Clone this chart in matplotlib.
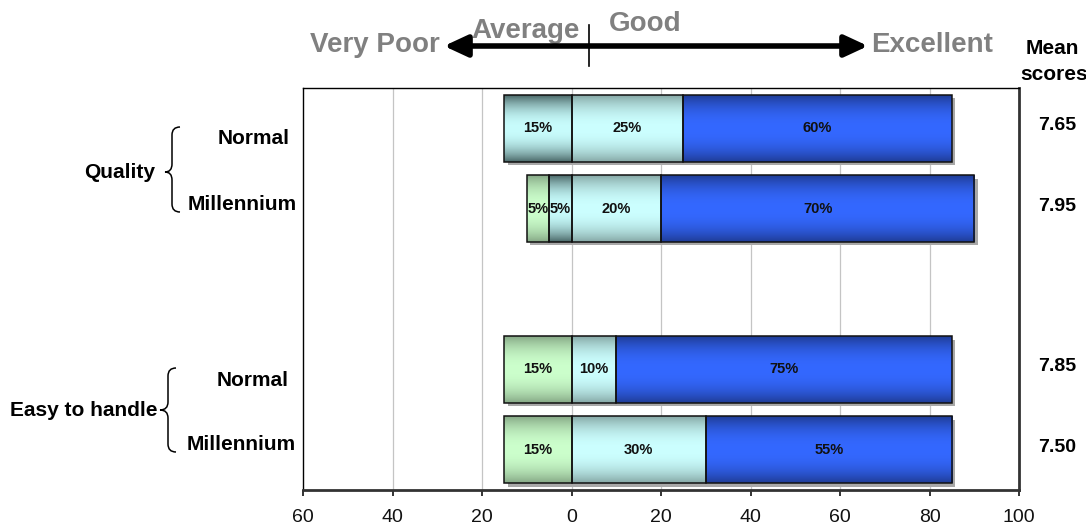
import numpy as np
import matplotlib
matplotlib.use("Agg")
import matplotlib.pyplot as plt
from matplotlib.path import Path
from matplotlib.patches import PathPatch
from matplotlib.transforms import blended_transform_factory
from matplotlib.colors import to_rgb
from matplotlib import patheffects as pe

# ---- data ----
rows = ["Quality Normal", "Quality Millennium", "Easy Normal", "Easy Millennium"]
row_pos = [0, 1, 3, 4]
poor = [0, 5, 15, 15]        # green, outermost negative
average = [15, 5, 0, 0]      # dark slate, next to zero
good = [25, 20, 10, 30]      # light cyan
excellent = [60, 70, 75, 55] # blue
mean_scores = ["7.65", "7.95", "7.85", "7.50"]
xticks = [-60, -40, -20, 0, 20, 40, 60, 80, 100]
xticklabels = ["60", "40", "20", "0", "20", "40", "60", "80", "100"]

W, H = 1086, 528
fig = plt.figure(figsize=(W / 100, H / 100), dpi=100)
ax = fig.add_axes([303 / W, 1 - 490 / H, (1019 - 303) / W, (490 - 88) / H])
ax.set_xlim(-60, 100)
ax.set_ylim(4.5, -0.5)

sans = ["Liberation Sans", "DejaVu Sans"]

def grad(edge, center, n=96, p=2.2):
    t = np.linspace(0, 1, n)
    d = np.abs(2 * t - 1)
    w = 1 - d ** p
    e = np.array(to_rgb(edge)); c = np.array(to_rgb(center))
    return (e[None, :] + (c - e)[None, :] * w[:, None])[:, None, :]

styles = {
    "poor": ("#86a886", "#ccffcc"),
    "average": ("#4a6868", "#c8fcfc"),
    "good": ("#86a8a6", "#ccffff"),
    "excellent": ("#1f3c96", "#3468ff"),
}

h = 0.83
pos = np.array(row_pos, float)
poor_a = np.array(poor, float); avg_a = np.array(average, float)
good_a = np.array(good, float); exc_a = np.array(excellent, float)

# shadow behind whole bars
tot_left = -(avg_a + poor_a)
tot_w = poor_a + avg_a + good_a + exc_a
ax.barh(pos, tot_w, left=tot_left, height=h, color="white", linewidth=0, zorder=2,
        path_effects=[pe.SimplePatchShadow(offset=(2.5, -2.5), shadow_rgbFace="#a8a8a8", alpha=1.0),
                      pe.Normal()])

segments = [
    ("poor", poor_a, -(avg_a + poor_a)),
    ("average", avg_a, -avg_a),
    ("good", good_a, np.zeros_like(good_a)),
    ("excellent", exc_a, good_a),
]

for name, widths, lefts in segments:
    bars = ax.barh(pos, widths, left=lefts, height=h, color="none",
                   edgecolor="#111111", linewidth=1.1, zorder=4)
    img = grad(*styles[name])
    for b, wv in zip(bars, widths):
        if wv <= 0:
            b.set_visible(False)
            continue
        x0, y0 = b.get_x(), b.get_y()
        im = ax.imshow(img, extent=(x0, x0 + b.get_width(), y0 + b.get_height(), y0),
                       aspect="auto", zorder=3, interpolation="bilinear")
        im.set_clip_path(b)
        lbl = f"{int(wv)}%"
        ax.text(x0 + b.get_width() / 2, y0 + b.get_height() / 2, lbl,
                ha="center", va="center", fontsize=10.5, fontweight="bold",
                family=sans, zorder=6, color="#111111")

ax.set_xlim(-60, 100)
ax.set_ylim(4.5, -0.5)
ax.set_xticks(xticks)
ax.set_xticklabels(xticklabels, family=sans, fontsize=14)
ax.set_yticks([])
ax.tick_params(axis="x", direction="out", length=4, width=1.2, pad=10, colors="#111111")
for x in xticks[1:-1]:
    ax.axvline(x, color="#c4c4c4", linewidth=0.9, zorder=1)
ax.spines["left"].set_linewidth(1.0)
ax.spines["top"].set_linewidth(1.0)
ax.spines["right"].set_linewidth(2.0)
ax.spines["right"].set_color("#333333")
ax.spines["bottom"].set_linewidth(2.0)
ax.spines["bottom"].set_color("#333333")

# mean scores tied to the rows
tr = blended_transform_factory(ax.transAxes, ax.transData)
xm = (1057 - 303) / (1019 - 303)
for p_, m in zip(row_pos, mean_scores):
    ax.text(xm, p_ - 0.03, m, transform=tr, ha="center", va="center",
            fontsize=14, fontweight="bold", family=sans, clip_on=False)

# overlay in pixel coords
ov = fig.add_axes([0, 0, 1, 1], facecolor="none")
ov.set_xlim(0, W); ov.set_ylim(H, 0); ov.axis("off")

gray = "#808080"
ov.text(375, 45, "Very Poor", ha="center", va="center", fontsize=20,
        fontweight="bold", color=gray, family=sans)
ov.text(526, 31, "Average", ha="center", va="center", fontsize=20,
        fontweight="bold", color=gray, family=sans)
ov.text(645, 24, "Good", ha="center", va="center", fontsize=20,
        fontweight="bold", color=gray, family=sans)
ov.text(932, 45, "Excellent", ha="center", va="center", fontsize=20,
        fontweight="bold", color=gray, family=sans)
ov.annotate("", xy=(444, 46), xytext=(868, 46),
            arrowprops=dict(arrowstyle="<|-|>,head_length=1.4,head_width=0.65",
                            color="black", lw=4, shrinkA=0, shrinkB=0))
ov.plot([589, 589], [25, 66], color="black", lw=1.2)

ov.text(1052, 48, "Mean", ha="center", va="center", fontsize=15,
        fontweight="bold", family=sans)
ov.text(1054, 74, "scores", ha="center", va="center", fontsize=15,
        fontweight="bold", family=sans)

lab_kw = dict(ha="right", va="center", fontsize=15, fontweight="bold", family=sans)
ov.text(290, 139, "Normal", **lab_kw)
ov.text(297, 204, "Millennium", **lab_kw)
ov.text(289, 381, "Normal", **lab_kw)
ov.text(296, 445, "Millennium", **lab_kw)
ov.text(155, 172, "Quality", **lab_kw)
ov.text(158, 410, "Easy to handle", **lab_kw)

def brace(xtip, xv, xr, top, mid, bot, r=8):
    verts = [(xr, top), (xv, top), (xv, top + r),
             (xv, mid - r), (xv, mid), (xtip, mid),
             (xv, mid), (xv, mid + r),
             (xv, bot - r), (xv, bot), (xr, bot)]
    codes = [Path.MOVETO, Path.CURVE3, Path.CURVE3,
             Path.LINETO, Path.CURVE3, Path.CURVE3,
             Path.CURVE3, Path.CURVE3,
             Path.LINETO, Path.CURVE3, Path.CURVE3]
    ov.add_patch(PathPatch(Path(verts, codes), fill=False, lw=1.1, color="black"))

brace(165, 172, 180, 127, 172, 212)
brace(160, 168, 176, 368, 410, 452)

fig.savefig("out.png", dpi=100)
